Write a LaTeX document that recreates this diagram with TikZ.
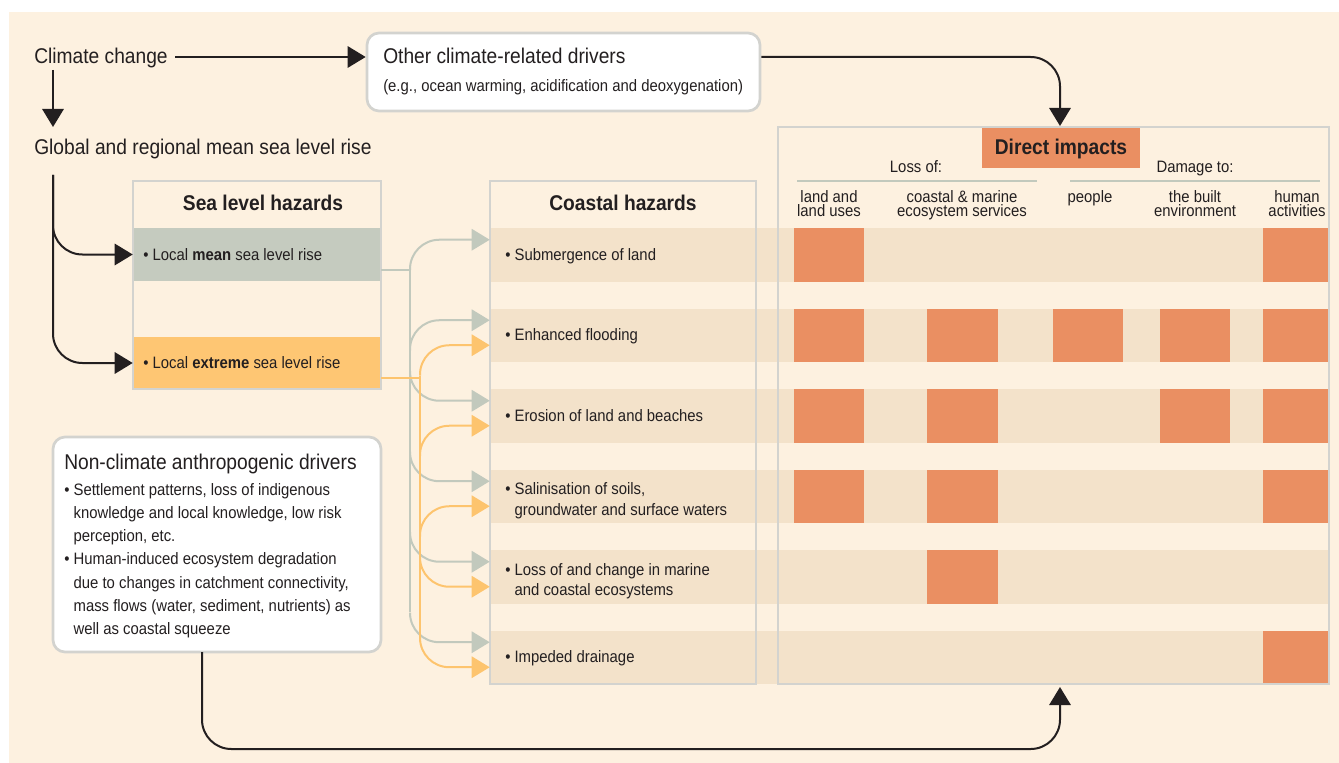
\documentclass[tikz,border=0pt]{standalone}
\usepackage{fontspec}
\setmainfont{Liberation Sans}[FakeStretch=0.9]
\usetikzlibrary{arrows.meta,calc,fit}
\definecolor{cream}{HTML}{FDF1E0}
\definecolor{band}{HTML}{F3E2CA}
\definecolor{cell}{HTML}{EA8F62}
\definecolor{gband}{HTML}{C5CBBF}
\definecolor{yband}{HTML}{FEC673}
\definecolor{boxc}{HTML}{D3D3CF}
\definecolor{gline}{HTML}{C2C9BD}
\definecolor{yline}{HTML}{FDC46E}
\definecolor{ink}{HTML}{231F20}
\tikzset{
  big/.style={font=\fontsize{16}{19}\selectfont},
  sm/.style={font=\fontsize{12.4}{15.5}\selectfont},
  txt/.style={inner sep=0pt, text=ink, anchor=base west, align=left},
  ctxt/.style={inner sep=0pt, text=ink, anchor=base, align=center},
  blk/.style={draw=ink, line width=1.5pt, rounded corners=22pt, -{Triangle[length=13.5pt,width=16pt]}},
  gl/.style={draw=gline, line width=1.5pt, rounded corners=22pt, -{Triangle[length=13.5pt,width=16pt]}},
  yl/.style={draw=yline, line width=1.5pt, rounded corners=22pt, -{Triangle[length=13.5pt,width=16pt]}},
  glp/.style={draw=gline, line width=1.5pt},
  ylp/.style={draw=yline, line width=1.5pt},
  frame/.style={draw=boxc, line width=2pt, inner sep=0pt},
  rbox/.style={draw=boxc, line width=2pt, inner sep=0pt, fill=white, rounded corners=9pt},
  bandbox/.style={fill=band, inner sep=0pt},
  hl/.style={draw=gline, line width=1.5pt},
}
\begin{document}
\begin{tikzpicture}[x=0.75pt,y=-0.75pt]
\useasboundingbox (0,0) rectangle (1339,763);
\fill[white] (0,0) rectangle (1339,763);
\fill[cream] (9,12) rectangle (1339,763);

% row bands
\foreach \i/\t in {1/228,2/308.5,3/389,4/469.5,5/550,6/630.5}{
  \node[bandbox, fit={(490,\t)(1329,{\t+53.5})}] (r\i) {};
}
% impact cells
\foreach \xa/\xb/\ya in {
  794/864/228, 1263/1329/228,
  794/864/308.5, 927/998/308.5, 1053/1123/308.5, 1160/1230/308.5, 1263/1329/308.5,
  794/864/389, 927/998/389, 1160/1230/389, 1263/1329/389,
  794/864/469.5, 927/998/469.5, 1263/1329/469.5,
  927/998/550,
  1263/1329/630.5}{
  \fill[cell] (\xa,\ya) rectangle (\xb,{\ya+53.5});
}

% sea level hazards box
\node[fill=gband, inner sep=0pt, fit={(133,228)(381,281)}] (mean) {};
\node[fill=yband, inner sep=0pt, fit={(133,337)(381,389)}] (ext) {};
\node[frame, fit={(133,181)(381,389)}] (slh) {};
\node[txt, big, font=\fontsize{16}{19}\selectfont\bfseries, anchor=base] (slht) at (263,211) {Sea level hazards};
\node[txt, sm] (meant) at (143,260) {• Local \textbf{mean} sea level rise};
\node[txt, sm] (extt) at (143,368) {• Local \textbf{extreme} sea level rise};

% coastal hazards box
\node[frame, fit={(490,181)(756,684)}] (ch) {};
\node[txt, big, font=\fontsize{16}{19}\selectfont\bfseries, anchor=base] (cht) at (623,211) {Coastal hazards};
\node[txt, sm] (t1) at (505,260) {• Submergence of land};
\node[txt, sm] (t2) at (505,340.5) {• Enhanced flooding};
\node[txt, sm] (t3) at (505,421) {• Erosion of land and beaches};
\node[txt, sm] (t4) at (505,494.5) {• Salinisation of soils,};
\node[txt, sm] (t4b) at (505,515) {\hphantom{• }groundwater and surface waters};
\node[txt, sm] (t5) at (505,575) {• Loss of and change in marine};
\node[txt, sm] (t5b) at (505,595.5) {\hphantom{• }and coastal ecosystems};
\node[txt, sm] (t6) at (505,662.5) {• Impeded drainage};

% direct impacts box
\node[frame, fit={(778,127)(1329,684)}] (di) {};
\node[fill=cell, inner sep=0pt, fit={(982,128)(1140,168)}] (dih) {};
\node[ctxt, font=\fontsize{16}{19}\selectfont\bfseries] (diht) at (1061,155) {Direct impacts};
\node[ctxt, sm] (loss) at (916,173) {Loss of:};
\node[ctxt, sm] (dmg) at (1195,173) {Damage to:};
\draw[hl] (797,181) -- (1037,181);
\draw[hl] (1070,181) -- (1320,181);
\node[ctxt, sm] (h1a) at (829,203) {land and};
\node[ctxt, sm] (h1b) at (829,217) {land uses};
\node[ctxt, sm] (h2a) at (962,203) {coastal \& marine};
\node[ctxt, sm] (h2b) at (962,217) {ecosystem services};
\node[ctxt, sm] (h3a) at (1090,203) {people};
\node[ctxt, sm] (h4a) at (1195,203) {the built};
\node[ctxt, sm] (h4b) at (1195,217) {environment};
\node[ctxt, sm] (h5a) at (1297,203) {human};
\node[ctxt, sm] (h5b) at (1297,217) {activities};

% top texts
\node[txt, big] (cc) at (34,64) {Climate change};
\node[txt, big] (gm) at (34,155) {Global and regional mean sea level rise};
\node[rbox, fit={(367,33)(760,111)}] (oc) {};
\node[txt, big] (oct) at (383,64) {Other climate-related drivers};
\node[txt, sm] (ocs) at (383,92) {(e.g., ocean warming, acidification and deoxygenation)};

% non-climate box
\node[rbox, fit={(53,437)(381,652)}] (nc) {};
\node[txt, big] (nct) at (64,469) {Non-climate anthropogenic drivers};
\node[txt, sm] (nc1) at (64,495) {• Settlement patterns, loss of indigenous};
\node[txt, sm] (nc2) at (64,518.3) {\hphantom{• }knowledge and local knowledge, low risk};
\node[txt, sm] (nc3) at (64,541.6) {\hphantom{• }perception, etc.};
\node[txt, sm] (nc4) at (64,564.9) {• Human-induced ecosystem degradation};
\node[txt, sm] (nc5) at (64,588.2) {\hphantom{• }due to changes in catchment connectivity,};
\node[txt, sm] (nc6) at (64,611.5) {\hphantom{• }mass flows (water, sediment, nutrients) as};
\node[txt, sm] (nc7) at (64,634.8) {\hphantom{• }well as coastal squeeze};

% black connectors
\coordinate (ccd) at (53,70);
\coordinate (gmi) at (53,127);
\coordinate (ccr) at (175,57);
\coordinate (gmo) at (53,175);
\coordinate (dit) at (1060,126);
\coordinate (ncb) at (202,652);
\coordinate (dib) at (1060,687);
\draw[blk] (ccd) -- (gmi);
\draw[blk] (ccr) -- (oc.west |- ccr);
\draw[blk] (oc.east |- ccr) -| (dit);
\draw[blk] (gmo) |- (mean.west);
\draw[blk] (gmo) |- (ext.west);
\draw[blk] (ncb) |- (630,749) -| (dib);

% grey connectors (mean sea level rise)
\draw[glp] (mean.east |- 0,270) -- (410,270) -- (410,612);
\draw[gl] (410,270) |- ($(r1.north west)+(0,12)$);
\draw[gl] (410,350.5) |- ($(r2.north west)+(0,12)$);
\draw[gl] (410,371) |- ($(r3.north west)+(0,12)$);
\draw[gl] (410,451.5) |- ($(r4.north west)+(0,12)$);
\draw[gl] (410,532) |- ($(r5.north west)+(0,12)$);
\draw[gl] (410,612.5) |- ($(r6.north west)+(0,12)$);

% yellow connectors (extreme sea level rise)
\draw[ylp] (ext.east |- 0,378) -- (420,378);
\draw[ylp] (420,375.5) -- (420,637.5);
\draw[yl] (420,375.5) |- ($(r2.north west)+(0,37)$);
\draw[yl] (420,456) |- ($(r3.north west)+(0,37)$);
\draw[yl] (420,536.5) |- ($(r4.north west)+(0,37)$);
\draw[yl] (420,557) |- ($(r5.north west)+(0,37)$);
\draw[yl] (420,637.5) |- ($(r6.north west)+(0,37)$);
\end{tikzpicture}
\end{document}
